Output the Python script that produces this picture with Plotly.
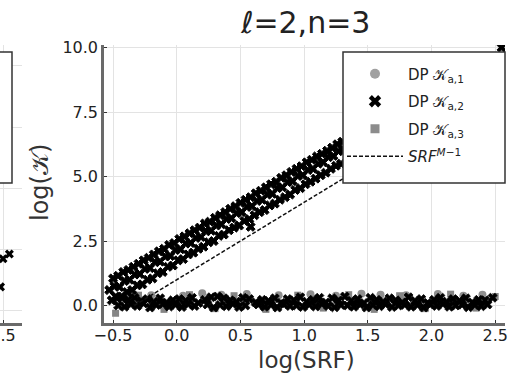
import plotly.graph_objects as go

W, H = 508, 374

# ---------------- data ----------------
# DP K_a,2 : growing branch (black crosses)
ka2_up_x = [-0.51, -0.47, -0.43, -0.39, -0.35, -0.31, -0.27, -0.23, -0.19, -0.15, -0.11, -0.07, -0.03, 0.01, 0.05, 0.09,
            0.13, 0.17, 0.21, 0.25, 0.29, 0.33, 0.37, 0.41, 0.45, 0.49, 0.53, 0.57, 0.61, 0.65, 0.69, 0.73, 0.77, 0.81,
            0.85, 0.89, 0.93, 0.97, 1.01, 1.05, 1.09, 1.13, 1.17, 1.21, 1.25, 1.29,
            -0.53, -0.49, -0.45, -0.41, -0.37, -0.33, -0.29, -0.25, -0.21, -0.17, -0.13, -0.09, -0.05, -0.01, 0.03, 0.07,
            0.11, 0.15, 0.19, 0.23, 0.27, 0.31, 0.35, 0.39, 0.43, 0.47, 0.51, 0.55, 0.59, 0.63, 0.67, 0.71, 0.75, 0.79,
            0.83, 0.87, 0.91, 0.95, 0.99, 1.03, 1.07, 1.11, 1.15, 1.19, 1.23, 1.27, 1.31,
            -0.50, -0.46, -0.42, -0.38, -0.34, -0.30, -0.26, -0.22, -0.18, -0.14, -0.10, -0.06, -0.02, 0.02, 0.06, 0.10,
            0.14, 0.18, 0.22, 0.26, 0.30, 0.34, 0.38, 0.42, 0.46, 0.50, 0.54, 0.58, 0.62, 0.66, 0.70, 0.74, 0.78, 0.82,
            0.86, 0.90, 0.94, 0.98, 1.02, 1.06, 1.10, 1.14, 1.18, 1.22, 1.26, 1.30,
            0.58, 1.40, 1.55, 1.70, 1.85, 2.00, 2.15, 2.30, 2.45, 2.55]
ka2_up_y = [0.20, 0.30, 0.35, 0.52, 0.60, 0.78, 0.82, 1.00, 1.05, 1.25, 1.30, 1.50, 1.55, 1.75, 1.80, 1.98,
            2.05, 2.20, 2.28, 2.45, 2.50, 2.70, 2.75, 2.92, 3.02, 3.10, 3.28, 3.35, 3.50, 3.62, 3.70, 3.88, 3.95, 4.10,
            4.20, 4.30, 4.48, 4.55, 4.70, 4.80, 4.92, 5.05, 5.15, 5.30, 5.42, 5.50,
            0.60, 0.75, 0.72, 0.95, 1.00, 1.20, 1.22, 1.42, 1.45, 1.68, 1.70, 1.90, 1.92, 2.15, 2.18, 2.40,
            2.42, 2.62, 2.66, 2.88, 2.90, 3.10, 3.15, 3.35, 3.38, 3.58, 3.62, 3.82, 3.85, 4.05, 4.10, 4.30, 4.33, 4.55,
            4.58, 4.78, 4.82, 5.02, 5.05, 5.25, 5.30, 5.50, 5.55, 5.75, 5.80, 5.98, 6.05,
            1.05, 1.15, 1.30, 1.38, 1.50, 1.62, 1.75, 1.85, 1.98, 2.10, 2.20, 2.35, 2.42, 2.58, 2.68, 2.80,
            2.92, 3.02, 3.18, 3.25, 3.40, 3.50, 3.62, 3.75, 3.85, 3.98, 4.10, 4.20, 4.35, 4.45, 4.58, 4.70, 4.80, 4.95,
            5.05, 5.18, 5.30, 5.40, 5.55, 5.65, 5.78, 5.88, 6.00, 6.12, 6.25, 6.35,
            3.05, 6.30, 6.80, 7.20, 7.70, 8.10, 8.60, 9.00, 9.50, 10.00]

# flat branch near zero (black crosses)
ka2_low_x = [-0.48, -0.43, -0.38, -0.33, -0.28, -0.23, -0.18, -0.13, -0.08, -0.03, 0.02, 0.07, 0.12, 0.17, 0.22,
             0.27, 0.32, 0.37, 0.42, 0.47, 0.52, 0.57, 0.62, 0.67, 0.72, 0.77, 0.82, 0.87, 0.92, 0.97, 1.02, 1.07,
             1.12, 1.17, 1.22, 1.27, 1.32, 1.37, 1.42, 1.47, 1.52, 1.57, 1.62, 1.67, 1.72, 1.77, 1.82, 1.87, 1.92,
             1.97, 2.02, 2.07, 2.12, 2.17, 2.22, 2.27, 2.32, 2.37, 2.42, 2.48,
             -0.46, -0.41, -0.36, -0.31, -0.26, -0.21, -0.16, -0.11, -0.06, -0.01, 0.04, 0.09, 0.14, 0.24, 0.29,
             0.34, 0.39, 0.44, 0.49, 0.54, 0.64, 0.69, 0.74, 0.79, 0.84, 0.89, 0.94, 0.99, 1.04, 1.09, 1.14, 1.19,
             1.24, 1.29, 1.34, 1.39, 1.44, 1.49, 1.54, 1.59, 1.64, 1.69, 1.74, 1.79, 1.84, 1.89, 1.94, 1.99, 2.04,
             2.09, 2.14, 2.19, 2.24, 2.29, 2.34, 2.39, 2.44]
ka2_low_y = [0.35, 0.28, 0.22, 0.30, 0.18, 0.25, 0.15, 0.28, 0.12, 0.20, 0.25, 0.18, 0.30, 0.10, 0.22,
             0.32, 0.35, 0.28, 0.20, 0.15, 0.30, 0.25, 0.12, 0.22, 0.18, 0.28, 0.10, 0.25, 0.20, 0.32, 0.15, 0.22,
             0.30, 0.12, 0.28, 0.20, 0.35, 0.18, 0.25, 0.10, 0.30, 0.22, 0.15, 0.28, 0.20, 0.12, 0.32, 0.18, 0.25,
             0.10, 0.22, 0.30, 0.15, 0.25, 0.18, 0.28, 0.12, 0.22, 0.20, 0.30,
             0.00, -0.05, 0.05, -0.02, 0.08, -0.08, 0.02, 0.06, -0.04, 0.03, -0.06, 0.05, -0.02, 0.04, -0.08,
             0.02, -0.03, 0.06, -0.06, 0.00, 0.04, -0.05, 0.02, -0.08, 0.05, -0.02, 0.00, -0.06, 0.03, -0.04,
             0.06, -0.02, -0.07, 0.02, 0.00, -0.05, 0.04, -0.08, 0.02, -0.03, 0.05, -0.06, 0.00, 0.03, -0.05,
             0.02, -0.08, 0.04, -0.02, 0.06, -0.05, 0.00, 0.03, -0.07, 0.02, -0.03, 0.04]

# DP K_a,1 (grey circles) and DP K_a,3 (grey squares) near zero
ka1_x = [-0.40, -0.20, 0.05, 0.20, 0.35, 0.55, 0.80, 1.05, 1.25, 1.45, 1.60, 1.80, 2.05, 2.25, 2.40]
ka1_y = [0.45, 0.40, 0.38, 0.48, 0.42, 0.45, 0.40, 0.44, 0.38, 0.46, 0.42, 0.40, 0.45, 0.38, 0.42]
ka3_x = [-0.48, -0.30, -0.10, 0.10, 0.30, 0.45, 0.70, 0.95, 1.15, 1.35, 1.55, 1.75, 1.95, 2.15, 2.35, 2.50]
ka3_y = [-0.30, 0.40, -0.15, 0.42, -0.12, 0.38, -0.15, 0.40, -0.10, 0.42, -0.15, 0.38, -0.12, 0.44, -0.10, 0.35]

# SRF^{M-1} reference line
srf_x = [-0.333, 2.5]
srf_y = [0.0, 8.5]

# left (cropped) neighbouring panel
left_x = [2.50, 2.55, 2.48]
left_y = [2.10, 2.30, 0.95]

x_ticks = [-0.5, 0.0, 0.5, 1.0, 1.5, 2.0, 2.5]
y_ticks = [0.0, 2.5, 5.0, 7.5, 10.0]

legend_names = ["DP 𝒦<sub>a,1</sub>", "DP 𝒦<sub>a,2</sub>", "DP 𝒦<sub>a,3</sub>",
                "<i>SRF</i><sup><i>M</i>−1</sup>"]

# ---------------- helpers ----------------
def px_x(p):
    return p / W


def px_y(p):
    return (H - p) / H


FONT = "DejaVu Sans"
GRID = "#e3e3e3"
SPINE = "#6a6a6a"

fig = go.Figure()

fig.add_trace(go.Scatter(x=ka1_x, y=ka1_y, mode="markers", showlegend=False,
                         marker=dict(symbol="circle", size=8, color="#8f8f8f")))
fig.add_trace(go.Scatter(x=ka3_x, y=ka3_y, mode="markers", showlegend=False,
                         marker=dict(symbol="square", size=7, color="#858585")))
fig.add_trace(go.Scatter(x=ka2_low_x, y=ka2_low_y, mode="markers", showlegend=False,
                         marker=dict(symbol="x", size=8, color="black", line=dict(width=0.8, color="black"))))
fig.add_trace(go.Scatter(x=srf_x, y=srf_y, mode="lines", showlegend=False,
                         line=dict(color="#111", width=1.5, dash="4px,2px")))
fig.add_trace(go.Scatter(x=ka2_up_x, y=ka2_up_y, mode="markers", showlegend=False,
                         marker=dict(symbol="x", size=8, color="black", line=dict(width=1, color="black"))))

# legend entries
leg_common = dict(x=[None], y=[None], showlegend=True)
fig.add_trace(go.Scatter(mode="markers", name=legend_names[0], legendgroup="a",
                         marker=dict(symbol="circle", size=10, color="#a0a0a0"), **leg_common))
fig.add_trace(go.Scatter(mode="markers", name=legend_names[1], legendgroup="b",
                         marker=dict(symbol="x", size=11, color="black"), **leg_common))
fig.add_trace(go.Scatter(mode="markers", name=legend_names[2], legendgroup="c",
                         marker=dict(symbol="square", size=9, color="#8c8c8c"), **leg_common))
fig.add_trace(go.Scatter(mode="lines", name=legend_names[3], legendgroup="d",
                         line=dict(color="#111", width=1.5, dash="4px,2px"), **leg_common))

# left partial panel
fig.add_trace(go.Scatter(x=left_x, y=left_y, mode="markers", showlegend=False,
                         xaxis="x2", yaxis="y2",
                         marker=dict(symbol="x", size=8, color="black")))

axis_common = dict(showgrid=True, gridcolor=GRID, gridwidth=1, zeroline=False,
                   showline=True, linecolor=SPINE, linewidth=2.5,
                   ticks="inside", ticklen=3, tickwidth=1.2, tickcolor="#333",
                   tickfont=dict(family=FONT, size=16, color="#222"))

fig.update_layout(
    width=W, height=H,
    margin=dict(l=0, r=0, t=0, b=0, pad=0, autoexpand=False),
    paper_bgcolor="white", plot_bgcolor="white",
    xaxis=dict(domain=[px_x(104), px_x(505)], range=[-0.571, 2.577], ticklabelstandoff=-4,
               tickvals=x_ticks, tickformat=".1f", anchor="y", **axis_common),
    yaxis=dict(domain=[px_y(323), px_y(45)], range=[-0.678, 10.10],
               tickvals=y_ticks, tickformat=".1f", anchor="x", **axis_common),
    xaxis2=dict(domain=[0, px_x(22)], range=[2.476, 2.65], tickvals=[2.5], tickformat=".1f",
                anchor="y2", ticklabeloverflow="allow", ticklabelstandoff=-4, **axis_common),
    yaxis2=dict(domain=[px_y(323), px_y(45)], range=[-0.53, 10.86], tickvals=y_ticks,
                anchor="x2", showgrid=True, gridcolor=GRID, zeroline=False,
                showline=False, showticklabels=False, ticks=""),
    legend=dict(x=px_x(342), xanchor="left", y=px_y(57.5), yanchor="top",
                bgcolor="rgba(0,0,0,0)", borderwidth=0, traceorder="grouped", tracegroupgap=5,
                font=dict(family=FONT, size=15, color="#222"), itemwidth=56),
    showlegend=True,
)

# legend frame of the main panel (covers the data below it)
fig.add_shape(type="rect", xref="paper", yref="paper",
              x0=px_x(343), x1=px_x(505), y0=px_y(183), y1=px_y(52),
              line=dict(color="#333", width=1.5), fillcolor="white", layer="above")
# legend frame of the cropped left panel
fig.add_shape(type="rect", xref="paper", yref="paper",
              x0=-0.05, x1=px_x(12), y0=px_y(183), y1=px_y(52),
              line=dict(color="#333", width=1.5), fillcolor="white", layer="above")

fig.add_annotation(text="ℓ=2,n=3", xref="paper", yref="paper", x=px_x(305), y=px_y(22),
                   showarrow=False, xanchor="center", yanchor="middle",
                   font=dict(family=FONT, size=30, color="#222"))
fig.add_annotation(text="log(SRF)", xref="paper", yref="paper", x=px_x(306), y=px_y(360),
                   showarrow=False, xanchor="center", yanchor="middle",
                   font=dict(family=FONT, size=23, color="#333"))
fig.add_annotation(text="log(𝒦)", xref="paper", yref="paper", x=px_x(40), y=px_y(183),
                   showarrow=False, xanchor="center", yanchor="middle", textangle=-90,
                   font=dict(family=FONT, size=24, color="#333"))

fig.write_html("out.html")
